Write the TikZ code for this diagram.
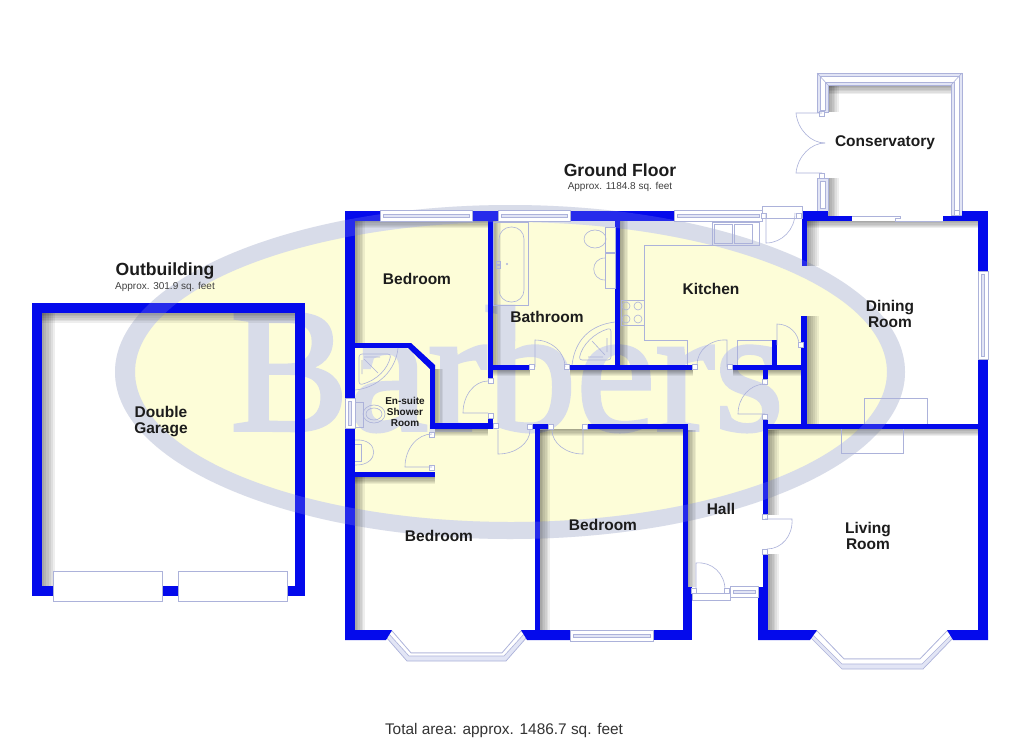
\documentclass[tikz,border=0pt]{standalone}
\usepackage{fontspec}
\setmainfont{Liberation Sans}
\newfontfamily\logofont[FakeBold=2]{Liberation Serif}
\usetikzlibrary{calc}
\definecolor{wallblue}{RGB}{4,10,236}
\definecolor{ringgrey}{RGB}{216,220,233}
\definecolor{creamy}{RGB}{253,253,216}
\definecolor{fixline}{RGB}{172,178,218}
\definecolor{winlav}{RGB}{226,229,245}
\definecolor{inkdark}{RGB}{28,28,28}
\tikzset{
    wall/.style={fill=wallblue},
    fixture/.style={draw=fixline, line width=.6pt},
    winframe/.style={draw=fixline, line width=.7pt, fill=white},
    stub/.style={draw=fixline, line width=.6pt, fill=white},
    roomlabel/.style={text=inkdark, align=center, inner sep=0pt, font=\bfseries\fontsize{15.5}{16}\selectfont},
    headlabel/.style={text=inkdark, align=center, inner sep=0pt, font=\bfseries\fontsize{17.6}{18}\selectfont},
    arealabel/.style={text=black!75, align=center, inner sep=0pt, font=\fontsize{10}{11}\selectfont},
    softstrip/.style={fill=black, opacity=.065}
}
% hinge, tip of the leaf, end of the swing
\newcommand{\doorswing}[3]{\draw[fixture] (#1) -- (#2) .. controls ($(#2)+.55*(#3)-.55*(#1)$) and ($(#3)+.55*(#2)-.55*(#1)$) .. (#3);}
\newcommand{\stubbox}[2]{\draw[stub] (#1-2.5,#2-2.5) rectangle (#1+2.5,#2+2.5);}
% x1, y1, x2, y2 of a window along x, then along y
\newcommand{\winlong}[4]{\draw[winframe] (#1,#2) rectangle (#3,#4);
    \draw[fixture, fill=winlav] (#1+3,{(#2+#4)/2-1.5}) rectangle (#3-3,{(#2+#4)/2+1.5});}
\newcommand{\winhigh}[4]{\draw[winframe] (#1,#2) rectangle (#3,#4);
    \draw[fixture, fill=winlav] ({(#1+#3)/2-1.5},#2+3) rectangle ({(#1+#3)/2+1.5},#4-3);}
% soft shadow: x, y1, y2, width, falling to the right
\newcommand{\softeast}[4]{\foreach \s in {1,...,6} {\fill[softstrip] (#1,#2) rectangle ({#1+#4*\s/6},#3);}}
% soft shadow: x1, x2, y, width, falling downwards
\newcommand{\softsouth}[4]{\foreach \s in {1,...,6} {\fill[softstrip] (#1,#3) rectangle (#2,{#3+#4*\s/6});}}
\newcommand{\logoring}[1]{\fill[#1, even odd rule] (510,372) ellipse (395 and 167) (511,372) ellipse (376 and 150);}
\begin{document}
\begin{tikzpicture}[x=1pt, y=-1pt]
    \useasboundingbox (0,0) rectangle (1020,742);
    \fill[white] (0,0) rectangle (1020,742);

    %%logo behind the plan
    \fill[creamy] (511,372) ellipse (380 and 155);
    \logoring{ringgrey}
    \node[text=ringgrey, anchor=base west, inner sep=0pt, font=\logofont\fontsize{178}{178}\selectfont] (logotext) at (230,430) {Barbers};

    %%soft shadows inside the walls
    \softeast{42}{313}{586}{13}
    \softsouth{42}{295}{313}{10}
    \softeast{355}{221}{343}{10}
    \softeast{355}{477}{630}{10}
    \softeast{540}{430}{630}{10}
    \softeast{493}{221}{365}{8}
    \softeast{620}{221}{365}{8}
    \softeast{807}{316}{424}{12}
    \softeast{807}{221}{266}{12}
    \softeast{768}{430}{515}{11}
    \softeast{768}{554}{630}{11}
    \softeast{687}{430}{587}{9}
    \softeast{828}{85}{112}{11}
    \softsouth{828}{951}{85}{9}
    \softeast{828}{178}{216}{11}
    \softsouth{355}{488}{221}{7}
    \softsouth{540}{683}{429}{7}
    \softsouth{355}{435}{477}{7}
    \softsouth{768}{978}{429}{7}
    \softsouth{807}{978}{221}{7}
    \softsouth{435}{488}{429}{7}
    \softsouth{493}{530}{370}{6}
    \softsouth{570}{693}{370}{6}
    \softsouth{733}{802}{370}{6}
    \softeast{435}{369}{423}{8}

    %%conservatory frame
    \draw[winframe, fill=winlav] (817,73) -- (962,73) -- (962,215) -- (951,215) -- (951,85) -- (828,85) -- (828,112) -- (817,112) -- cycle;
    \draw[fixture, fill=white] (820,76) -- (959,76) -- (959,212) -- (954,212) -- (954,82) -- (825,82) -- (825,110) -- (820,110) -- cycle;
    \draw[fixture] (817,73) -- (828,85) (962,73) -- (951,85);
    \draw[winframe, fill=winlav] (817,178) rectangle (828,211);
    \draw[fixture, fill=white] (820,181) rectangle (825,208);
    \stubbox{822}{114}
    \stubbox{822}{176}
    \stubbox{957}{213}
    \doorswing{822,113}{796,113}{825,143}
    \doorswing{822,173}{796,173}{825,143}

    %%bay windows
    \draw[winframe, fill=winlav] (386,637) -- (407,661) -- (506,661) -- (527,637) -- (521,631) -- (502,653) -- (411,653) -- (392,631) -- cycle;
    \draw[fixture, fill=white] (392,631) -- (411,653) -- (502,653) -- (521,631) -- (524,634) -- (504,656) -- (409,656) -- (389,634) -- cycle;
    \draw[winframe, fill=winlav] (811,638) -- (842,669) -- (923,669) -- (953,638) -- (947,631) -- (920,659) -- (844,659) -- (817,631) -- cycle;
    \draw[fixture, fill=white] (817,631) -- (844,659) -- (920,659) -- (947,631) -- (951,635) -- (922,664) -- (842,664) -- (813,635) -- cycle;

    %%garage
    \fill[wall] (32,303) rectangle (305,313);
    \fill[wall] (32,303) rectangle (42,596);
    \fill[wall] (295,303) rectangle (305,596);
    \fill[wall] (32,586) rectangle (305,596);

    %%outer walls
    \fill[wall] (345,211) rectangle (355,640);
    \fill[wall] (345,211) rectangle (674,221);
    \fill[wall] (345,630) -- (392,630) -- (386,640) -- (345,640) -- cycle;
    \fill[wall] (521,630) -- (570,630) -- (570,640) -- (527,640) -- cycle;
    \fill[wall] (653,630) rectangle (692,640);
    \fill[wall] (683,587) rectangle (692,640);
    \fill[wall] (683,424) rectangle (687.5,587);
    \fill[wall] (758,587) rectangle (768,640);
    \fill[wall] (763,554) rectangle (768,587);
    \fill[wall] (758,630) -- (817,630) -- (810,640) -- (758,640) -- cycle;
    \fill[wall] (947,630) -- (988,630) -- (988,640) -- (953,640) -- cycle;
    \fill[wall] (978,211) rectangle (988,640);
    \fill[wall] (943,216) rectangle (988,221);
    \fill[wall] (962,211) rectangle (988,221);
    \fill[wall] (802,211) rectangle (828,221);
    \fill[wall] (802,216) rectangle (852,221);
    \fill[wall] (802,211) rectangle (807,266);

    %%inner walls
    \fill[wall] (488,221) rectangle (493,379);
    \fill[wall] (488,414) rectangle (493,429);
    \fill[wall] (493,365) rectangle (530,370);
    \fill[wall] (570,365) rectangle (693,370);
    \fill[wall] (733,365) rectangle (807,370);
    \fill[wall] (615,221) rectangle (620,365);
    \fill[wall] (772,340) rectangle (777,365);
    \fill[wall] (763,370) rectangle (768,380);
    \fill[wall] (763,417) rectangle (768,515);
    \fill[wall] (801,316) rectangle (807,424);
    \fill[wall] (763,424) rectangle (978,429);
    \fill[wall] (533,424) rectangle (548,429);
    \fill[wall] (587,424) rectangle (687,429);
    \fill[wall] (535,424) rectangle (540,630);
    \fill[wall] (430,423) rectangle (493,429);
    \fill[wall] (430,367) rectangle (435,429);
    \fill[wall] (355,343) rectangle (410,348);
    \fill[wall] (408,343) -- (411,343) -- (435,365) -- (435,369) -- (430,369) -- (408,348) -- cycle;
    \fill[wall] (355,472) rectangle (435,477);

    %%logo ring over the walls
    \begin{scope}[opacity=.16]
        \logoring{ringgrey}
    \end{scope}

    %%windows
    \winlong{380}{210}{472}{221}
    \winlong{498}{210}{570}{221}
    \winlong{674}{210}{762}{221}
    \winlong{570}{630}{653}{641}
    \winlong{730}{586}{758}{597}
    \winhigh{345}{398}{355}{428}
    \winhigh{978}{271}{988}{359}
    \draw[winframe] (53,571) rectangle (162,601);
    \draw[winframe] (178,571) rectangle (287,601);

    %%doors
    \stubbox{491}{381}
    \stubbox{491}{416}
    \stubbox{432}{435}
    \stubbox{432}{468}
    \stubbox{496}{426}
    \stubbox{530}{427}
    \stubbox{551}{427}
    \stubbox{585}{427}
    \stubbox{532}{367}
    \stubbox{567}{367}
    \stubbox{695}{367}
    \stubbox{730}{367}
    \stubbox{765}{382}
    \stubbox{765}{417}
    \stubbox{765}{517}
    \stubbox{765}{552}
    \doorswing{488,413}{463,413}{488,381}
    \doorswing{432,467}{405,467}{432,434}
    \doorswing{498,430}{498,454}{530,430}
    \doorswing{583,430}{583,454}{552,430}
    \doorswing{535,367}{535,340}{565,367}
    \doorswing{727,367}{727,340}{697,365}
    \doorswing{777,345}{777,324}{799,345}
    \doorswing{765,414}{738,414}{765,384}
    \doorswing{765,519}{792,519}{767,549}
    \doorswing{696,593}{696,563}{725,590}
    \draw[stub] (692,593) rectangle (730,600);
    \stubbox{694}{591}
    \stubbox{727}{591}
    \draw[stub] (762,206) rectangle (802,218);
    \stubbox{764}{216}
    \stubbox{799}{216}
    \doorswing{766,213}{766,243}{795,213}
    \stubbox{801}{345}
    \draw[fixture] (852,216) -- (900,216) -- (900,218) -- (895,218) -- (895,221) (895,221) -- (943,221);

    %%bathroom fittings
    \draw[fixture] (493,222) rectangle (528,305);
    \draw[fixture, rounded corners=12pt] (499,227) rectangle (524,302);
    \draw[fixture] (496,261) rectangle (500,264) (496,265) rectangle (500,268);
    \draw[fixture] (507,264) circle (.8);
    \draw[fixture] (605,227) rectangle (615,252);
    \draw[fixture] (595,239) ellipse (11 and 9);
    \draw[fixture] (605,253) rectangle (615,288);
    \draw[fixture] (605,258) .. controls (590,258) and (590,280) .. (605,280);
    \draw[fixture] (572,365) .. controls (575,340) and (590,325) .. (615,322);
    \draw[fixture, rounded corners=3pt] (579,360) .. controls (582,345) and (594,333) .. (611,328) -- (611,360) -- cycle;
    \draw[fixture] (592,341) -- (605,355) (588,357) -- (603,357) (607,338) -- (607,352);

    %%en-suite fittings
    \draw[fixture] (398,348) .. controls (396,370) and (378,388) .. (355,390);
    \draw[fixture, rounded corners=3pt] (359,354) -- (391,354) .. controls (388,368) and (378,380) .. (359,385) -- cycle;
    \draw[fixture] (364,359) -- (378,373) (364,357) -- (380,357) (362,360) -- (362,374);
    \draw[fixture] (355,402) rectangle (363,427);
    \draw[fixture] (374,414) ellipse (11 and 9);
    \draw[fixture] (374,414) ellipse (8 and 6);
    \draw[fixture] (355,440) .. controls (380,438) and (380,466) .. (355,465);
    \draw[fixture] (355,444) -- (361,444) -- (361,461) -- (355,461);

    %%kitchen units
    \draw[fixture] (712,245) -- (644,245) -- (644,340) -- (687,340) -- (687,365);
    \draw[fixture] (737,365) -- (737,340) -- (772,340);
    \draw[fixture] (712,222) rectangle (759,245);
    \draw[fixture] (714,224) rectangle (732,243);
    \draw[fixture] (734,224) rectangle (752,243);
    \draw[fixture] (621,300) rectangle (644,325);
    \foreach \hobx in {626,638} {
        \foreach \hoby in {306,319} {
            \draw[fixture] (\hobx,\hoby) circle (4);
        }
    }

    %%fireplace
    \draw[fixture] (864,424) -- (864,398) -- (927,398) -- (927,424);
    \draw[fixture] (841,429) -- (841,453) -- (903,453) -- (903,429);

    %%labels
    \node[headlabel] (groundfloor) at (620,170) {Ground Floor};
    \node[arealabel] (groundarea) at (620,187) {Approx. 1184.8 sq. feet};
    \node[headlabel] (outbuilding) at (165,271) {Outbuilding};
    \node[arealabel] (outarea) at (165,287) {Approx. 301.9 sq. feet};
    \node[roomlabel] (garage) at (161,422) {Double\\Garage};
    \node[roomlabel] (conservatory) at (885,143) {Conservatory};
    \node[roomlabel] (kitchen) at (711,289) {Kitchen};
    \node[roomlabel] (bathroom) at (547,317) {Bathroom};
    \node[roomlabel] (bedroomback) at (417,279) {Bedroom};
    \node[roomlabel, font=\bfseries\fontsize{10}{11}\selectfont] (ensuite) at (405,412) {En-suite\\Shower\\Room};
    \node[roomlabel] (dining) at (890,314) {Dining\\Room};
    \node[roomlabel] (living) at (868,536) {Living\\Room};
    \node[roomlabel] (hall) at (721,509) {Hall};
    \node[roomlabel] (bedroomleft) at (439,536) {Bedroom};
    \node[roomlabel] (bedroommid) at (603,525) {Bedroom};
    \node[text=black!80, inner sep=0pt, font=\fontsize{15.4}{16}\selectfont] (totalarea) at (504,731) {Total area: approx. 1486.7 sq. feet};
\end{tikzpicture}
\end{document}
